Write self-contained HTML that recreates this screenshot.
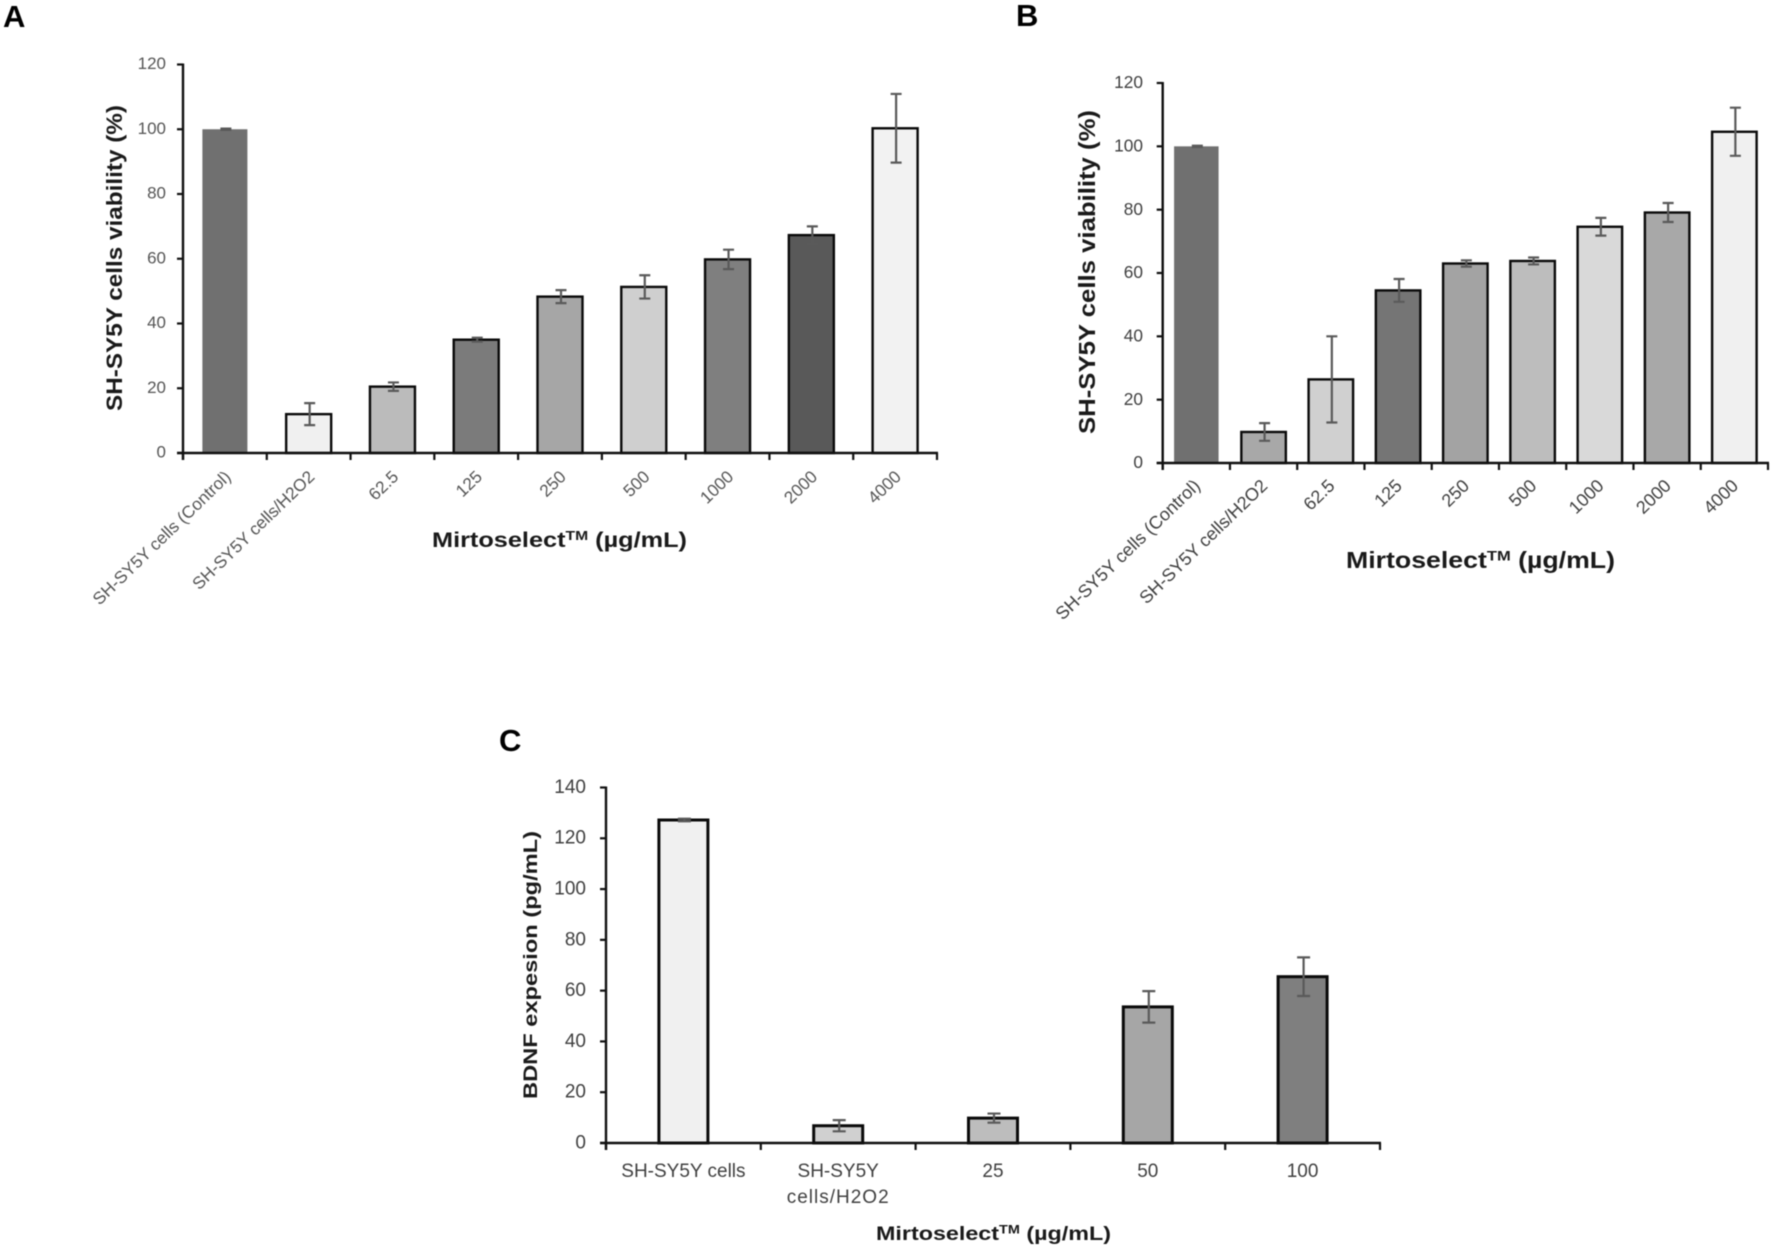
<!DOCTYPE html>
<html lang="en">
<head>
<meta charset="utf-8">
<title>SH-SY5Y cell viability and BDNF expression</title>
<style>
html,body{margin:0;padding:0;background:#fff;width:1772px;height:1249px;overflow:hidden}
svg{display:block;font-family:"Liberation Sans",sans-serif;filter:blur(0.4px)}
</style>
</head>
<body>
<svg id="figure" xmlns="http://www.w3.org/2000/svg" width="1772" height="1249" viewBox="0 0 1772 1249">
<rect width="1772" height="1249" fill="#ffffff"/>
</svg>
<script>
const categoriesA = ["SH-SY5Y cells (Control)", "SH-SY5Y cells/H2O2", "62.5", "125", "250", "500", "1000", "2000", "4000"];
const valuesA = [100, 12, 20.5, 35, 48.3, 51.3, 59.8, 67.3, 100.3];
const errorsA = [0.2, 3.4, 1.3, 0.6, 2, 3.6, 3, 2.7, 10.6];
const ticksA = [0, 20, 40, 60, 80, 100, 120];

const categoriesB = ["SH-SY5Y cells (Control)", "SH-SY5Y cells/H2O2", "62.5", "125", "250", "500", "1000", "2000", "4000"];
const valuesB = [100, 9.8, 26.4, 54.5, 63, 63.8, 74.6, 79.1, 104.6];
const errorsB = [0.2, 2.8, 13.6, 3.6, 1, 1.1, 2.8, 3, 7.6];
const ticksB = [0, 20, 40, 60, 80, 100, 120];

const categoriesC = [["SH-SY5Y cells"], ["SH-SY5Y", "cells/H2O2"], ["25"], ["50"], ["100"]];
const valuesC = [127.2, 6.8, 9.8, 53.6, 65.5];
const errorsC = [0.5, 2.2, 1.8, 6.2, 7.6];
const ticksC = [0, 20, 40, 60, 80, 100, 120, 140];

const fillsA = ["#707070", "#f0f0f0", "#bbbbbb", "#7b7b7b", "#a6a6a6", "#cfcfcf", "#7f7f7f", "#595959", "#f2f2f2"];
const fillsB = ["#707070", "#a8a8a8", "#d0d0d0", "#757575", "#a3a3a3", "#bdbdbd", "#d9d9d9", "#a8a8a8", "#f0f0f0"];
const fillsC = ["#f0f0f0", "#d0d0d0", "#bdbdbd", "#a6a6a6", "#7f7f7f"];

const NS = "http://www.w3.org/2000/svg";
const figure = document.getElementById("figure");

function make(parent, tag, attrs, text) {
  const el = document.createElementNS(NS, tag);
  for (const k in attrs) el.setAttribute(k, attrs[k]);
  if (text !== undefined) el.textContent = text;
  parent.appendChild(el);
  return el;
}

function slug(s) {
  return String(s).toLowerCase().replace(/[^a-z0-9]+/g, "-").replace(/^-|-$/g, "");
}

function drawChart(cfg) {
  const g = make(figure, "g", {});
  
  

  const xBand = (cfg.x1 - cfg.x0) / cfg.categories.length;
  const xScale = i => cfg.x0 + xBand * (i + 0.5);
  const yScale = v => cfg.y0 - (v / cfg.yMax) * (cfg.y0 - cfg.yTop);

  /* bars */
  cfg.values.forEach((v, i) => {
    const top = yScale(v);
    const outlined = cfg.outlineFirst || i > 0;
    const bar = make(g, "rect", {
      x: xScale(i) - cfg.barW / 2, y: top, width: cfg.barW, height: cfg.y0 - top,
      fill: cfg.fills[i], stroke: outlined ? "#0a0a0a" : "none", "stroke-width": cfg.barStroke
    });
    
    
  });

  /* error bars */
  cfg.values.forEach((v, i) => {
    const hi = yScale(v + cfg.errors[i]);
    const lo = yScale(v - cfg.errors[i]);
    const cx = xScale(i) + 1;
    const err = make(g, "path", {
      d: "M" + cx + " " + hi + "V" + lo +
         "M" + (cx - cfg.cap) + " " + hi + "H" + (cx + cfg.cap) +
         "M" + (cx - cfg.cap) + " " + lo + "H" + (cx + cfg.cap),
      fill: "none", stroke: "#5a5a5a", "stroke-width": 2.2
    });
    
    
  });

  /* axes */
  const yAxis = make(g, "line", { x1: cfg.x0, x2: cfg.x0, y1: cfg.yTop - 1, y2: cfg.y0 + 7, stroke: "#111", "stroke-width": 2.4 });
  
  
  const xAxis = make(g, "line", { x1: cfg.x0 - 6, x2: cfg.x1 + 1, y1: cfg.y0, y2: cfg.y0, stroke: "#111", "stroke-width": 2.4 });
  
  

  /* y ticks */
  cfg.ticks.forEach(t => {
    const y = yScale(t);
    const tick = make(g, "line", { x1: cfg.x0 - 6, x2: cfg.x0, y1: y, y2: y, stroke: "#111", "stroke-width": 2.2 });
    
    
    const label = make(g, "text", {
      x: 0, y: 0, "text-anchor": "end", "font-size": cfg.tickSize, fill: cfg.tickColor,
      transform: "translate(" + cfg.yLabelX + " " + (y + cfg.tickSize * 0.34 - 1) + ") scale(" + cfg.tickStretch + " 1)"
    }, t);
    
    
  });

  /* x ticks */
  for (let i = 0; i <= cfg.categories.length; i++) {
    const x = cfg.x0 + xBand * i;
    const tick = make(g, "line", { x1: x, x2: x, y1: cfg.y0, y2: cfg.y0 + 7, stroke: "#111", "stroke-width": 2.2 });
    
    
  }

  /* x category labels */
  cfg.categories.forEach((c, i) => {
    if (cfg.rotated) {
      const label = make(g, "text", {
        "text-anchor": "end", "font-size": cfg.catSize, fill: cfg.tickColor,
        transform: "translate(" + (xScale(i) + cfg.catDx) + " " + (cfg.y0 + cfg.catDy) + ") rotate(-44)"
      }, c);
      
      
    } else {
      c.forEach((line, n) => {
        const label = make(g, "text", {
          x: xScale(i), y: cfg.y0 + cfg.catDy + n * 26, "text-anchor": "middle",
          "font-size": cfg.catSize, fill: cfg.tickColor, "letter-spacing": n > 0 ? 1 : 0
        }, line);
        
        
      });
    }
  });

  /* y title */
  const yTitle = make(g, "text", {
    "text-anchor": "middle", "font-size": cfg.yTitleSize, "font-weight": "bold", fill: "#1a1a1a",
    textLength: cfg.yTitleLen, lengthAdjust: "spacingAndGlyphs",
    transform: "translate(" + cfg.yTitleX + " " + cfg.yTitleY + ") rotate(-90)"
  }, cfg.yTitle);
  
  

  /* x title: name, superscript TM, unit */
  const xTitle = make(g, "text", {
    x: cfg.xTitleX, y: cfg.xTitleY, "font-size": cfg.xTitleSize, "font-weight": "bold", fill: "#1a1a1a",
    textLength: cfg.xTitleLen, lengthAdjust: "spacingAndGlyphs"
  });
  
  
  make(xTitle, "tspan", {}, "Mirtoselect");
  make(xTitle, "tspan", { dy: -cfg.xTitleSize * 0.33, "font-size": cfg.xTitleSize * 0.62 }, "TM");
  make(xTitle, "tspan", { dy: cfg.xTitleSize * 0.33 }, " (µg/mL)");

  /* panel letter */
  const letter = make(g, "text", {
    x: cfg.letterX, y: cfg.letterY, "font-size": 31, "font-weight": "bold", fill: "#000"
  }, cfg.letter);
  
  
}

drawChart({
  id: "panel-a", letter: "A", letterX: 3, letterY: 27,
  categories: categoriesA, values: valuesA, errors: errorsA, ticks: ticksA, fills: fillsA,
  x0: 183, x1: 937, y0: 453, yTop: 64.5, yMax: 120,
  barW: 45, barStroke: 2.4, cap: 5.5, outlineFirst: false,
  tickSize: 16.5, tickStretch: 1.03, tickColor: "#555555", yLabelX: 166,
  rotated: true, catSize: 17.2, catDx: 7, catDy: 25,
  yTitle: "SH-SY5Y cells viability (%)", yTitleSize: 22, yTitleLen: 306, yTitleX: 122, yTitleY: 258,
  xTitleX: 432, xTitleY: 547, xTitleSize: 21, xTitleLen: 255
});

drawChart({
  id: "panel-b", letter: "B", letterX: 1016, letterY: 26,
  categories: categoriesB, values: valuesB, errors: errorsB, ticks: ticksB, fills: fillsB,
  x0: 1162.7, x1: 1768, y0: 463, yTop: 83, yMax: 120,
  barW: 44.5, barStroke: 2.4, cap: 5.5, outlineFirst: false,
  tickSize: 18, tickStretch: 0.96, tickColor: "#404040", yLabelX: 1143,
  rotated: true, catSize: 18, catDx: 5, catDy: 24,
  yTitle: "SH-SY5Y cells viability (%)", yTitleSize: 23, yTitleLen: 324, yTitleX: 1095, yTitleY: 272,
  xTitleX: 1346, xTitleY: 568, xTitleSize: 23, xTitleLen: 269
});

drawChart({
  id: "panel-c", letter: "C", letterX: 499, letterY: 751,
  categories: categoriesC, values: valuesC, errors: errorsC, ticks: ticksC, fills: fillsC,
  x0: 606, x1: 1380, y0: 1143, yTop: 787.5, yMax: 140,
  barW: 49, barStroke: 3, cap: 6.5, outlineFirst: true,
  tickSize: 19, tickStretch: 1, tickColor: "#404040", yLabelX: 586,
  rotated: false, catSize: 19, catDy: 34,
  yTitle: "BDNF expesion (pg/mL)", yTitleSize: 19, yTitleLen: 268, yTitleX: 537, yTitleY: 965,
  xTitleX: 876, xTitleY: 1240, xTitleSize: 19.5, xTitleLen: 235
});
</script>
</body>
</html>
